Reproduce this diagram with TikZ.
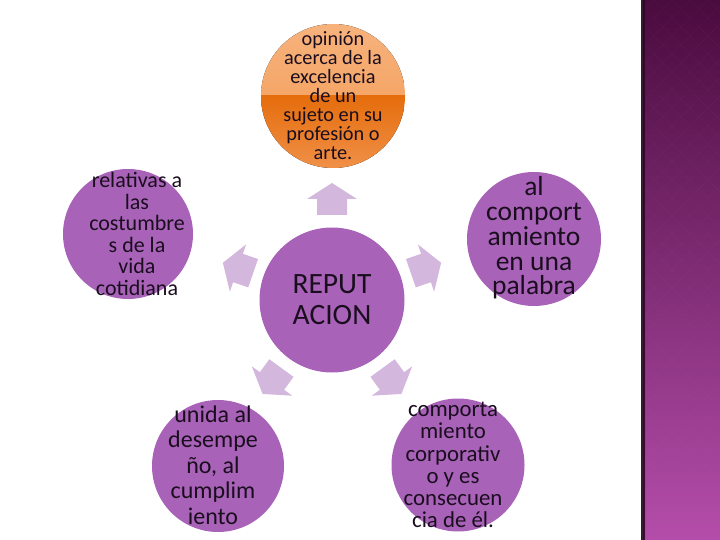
\documentclass[tikz,border=0pt]{standalone}
\usepackage{fontspec}
\setmainfont{Carlito}
\definecolor{circfill}{HTML}{A862B8}
\definecolor{arrowfill}{HTML}{D4B7DD}
\definecolor{inkdark}{HTML}{1A0E1E}
\definecolor{orA}{HTML}{F7B27C}
\definecolor{orB}{HTML}{F29A52}
\definecolor{orC}{HTML}{E56D0C}
\definecolor{orD}{HTML}{F09048}
\definecolor{panelTop}{HTML}{4A0B3E}
\definecolor{panelBot}{HTML}{B44DAA}
\definecolor{panelLine}{HTML}{C070B8}
\tikzset{
  bubble/.style={circle, fill=circfill, inner sep=0pt},
  orangebubble/.style={circle, inner sep=0pt,
    path picture={
      \fill[top color=orA, bottom color=orB] (path picture bounding box.north west) rectangle (path picture bounding box.east);
      \fill[top color=orC, bottom color=orD] (path picture bounding box.west) rectangle (path picture bounding box.south east);
    }},
  label text/.style={align=center, inner sep=0pt, text=inkdark},
  blockarrow/.style={fill=arrowfill}
}
\newcommand{\myarrow}[3]{%
  \fill[blockarrow, shift={(#1,#2)}, rotate=#3] (-16,-15) -- (0,-15) -- (0,-25) -- (16,0) -- (0,25) -- (0,15) -- (-16,15) -- cycle;}
\begin{document}
\begin{tikzpicture}[x=1pt,y=-1pt]
\useasboundingbox (0,0) rectangle (720,540);
% circles
\node[bubble, minimum size=145pt] (rep) at (332,300) {};
\node[orangebubble, minimum size=144pt] (top) at (333,96) {};
\node[bubble, minimum size=130pt] (left) at (128,234) {};
\node[bubble, minimum size=134pt] (right) at (534,239) {};
\node[bubble, minimum size=132pt] (bl) at (218,466) {};
\node[bubble, minimum size=133pt] (br) at (458,465) {};
% texts
\node[label text, font={\fontsize{29.5}{31}\selectfont}] (repT) at (rep.center) {REPUT\\ACION};
\node[label text, font={\fontsize{20.3}{19}\selectfont}] (topT) at (top.center) {opinión\\acerca de la\\excelencia\\de un\\sujeto en su\\profesión o\\arte.};
\node[label text, font={\fontsize{22}{21.6}\selectfont}] (leftT) at ([xshift=9pt]left.center) {relativas a\\las\\costumbre\\s de la\\vida\\cotidiana};
\node[label text, font={\fontsize{27.5}{24.8}\selectfont}] (rightT) at ([yshift=1pt]right.center) {al\\comport\\amiento\\en una\\palabra};
\node[label text, font={\fontsize{24}{25.5}\selectfont}] (blT) at ([xshift=-5pt,yshift=1pt]bl.center) {unida al\\desempe\\ño, al\\cumplim\\iento};
\node[label text, font={\fontsize{22.8}{22.2}\selectfont}] (brT) at ([xshift=-5pt]br.center) {comporta\\miento\\corporativ\\o y es\\consecuen\\cia de él.};
% arrows
\myarrow{332}{199}{90}
\myarrow{238}{268}{161}
\myarrow{426}{268}{19}
\myarrow{272}{381}{234}
\myarrow{392}{381}{306}
% right panel
\fill[top color=panelTop, bottom color=panelBot] (643,0) rectangle (720,540);
\fill[left color=black!50!panelTop, right color=panelTop, opacity=0.7] (641,0) rectangle (645,540);
\begin{scope}
\clip (645,0) rectangle (720,540);
\foreach \k in {-30,...,30} {
  \draw[panelLine, opacity=0.06, line width=0.6pt] (600+\k*18,0) -- ++(540,540);
  \draw[panelLine, opacity=0.06, line width=0.6pt] (600+\k*18,0) -- ++(-540,540);
}
\end{scope}
\end{tikzpicture}
\end{document}
